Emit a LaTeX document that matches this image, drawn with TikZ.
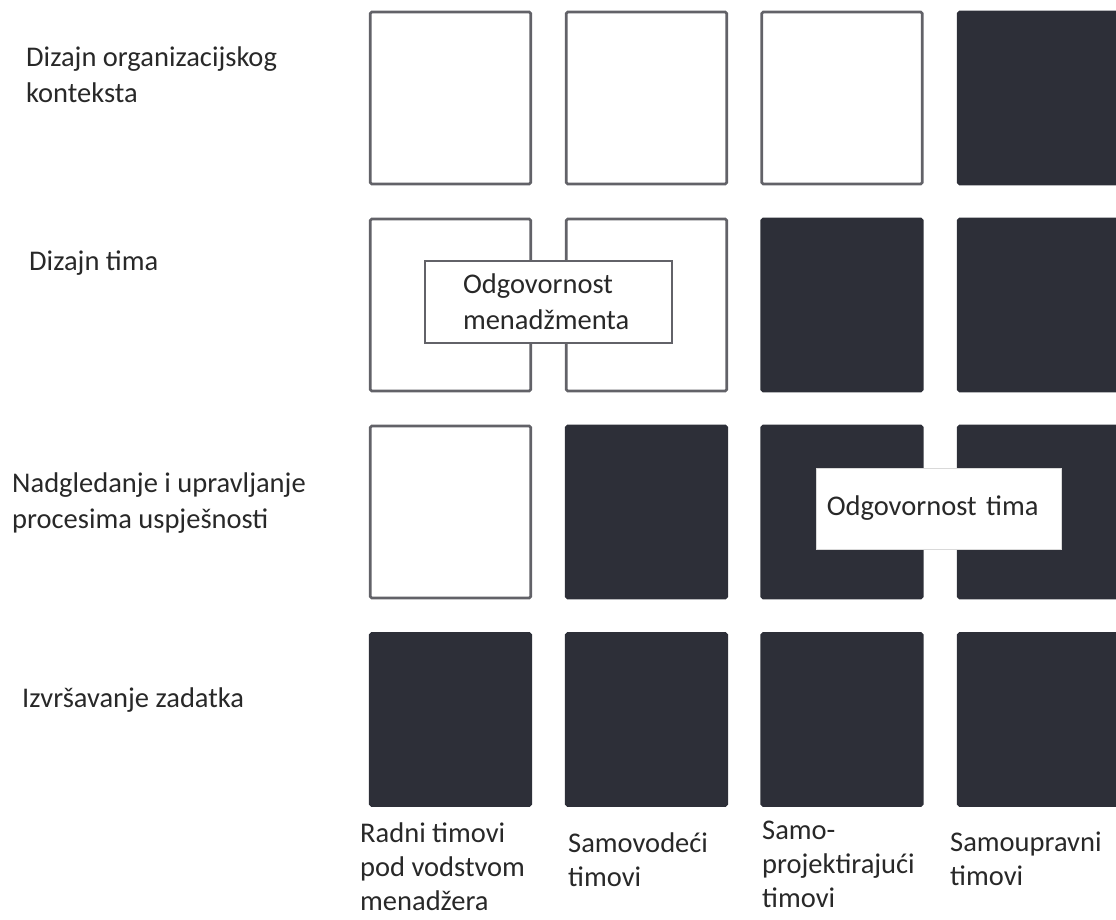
\documentclass[tikz,border=0pt]{standalone}
\usepackage{fontspec}
\setmainfont{Carlito}
\usetikzlibrary{positioning,calc}

\definecolor{cellfill}{RGB}{45,47,56}
\definecolor{cellline}{RGB}{98,98,104}
\definecolor{txt}{RGB}{40,40,40}

\tikzset{
  cell/.style={minimum width=160.5pt, minimum height=172pt, inner sep=0pt,
    line width=2.6pt, rounded corners=1.5pt},
  open/.style={cell, draw=cellline, fill=white},
  dark/.style={cell, draw=cellfill, fill=cellfill},
  lbl/.style={anchor=base west, align=left, inner sep=0pt, text=txt,
    font=\fontsize{28.5}{36}\selectfont},
  teamlbl/.style={lbl, font=\fontsize{28.5}{34}\selectfont},
  respbox/.style={fill=white, align=left, text=txt, inner ysep=0pt,
    font=\fontsize{28.5}{36}\selectfont}
}

\begin{document}
\begin{tikzpicture}[x=1pt,y=-1pt]
\useasboundingbox (0,0) rectangle (1116,920);
% grid of cells, dark when the team carries the job
\foreach \r/\y in {1/98,2/305,3/512,4/719.5}
  \foreach \c/\x in {1/450.5,2/646.5,3/842,4/1038.5}{
    \pgfmathtruncatemacro{\cellsum}{\r+\c}
    \ifnum\cellsum>4 \def\cellstyle{dark}\else\def\cellstyle{open}\fi
    \node[\cellstyle] (r\r c\c) at (\x,\y) {};
  }

% responsibility boxes
\node[respbox, draw=cellline, line width=2.2pt, minimum width=247pt, minimum height=82pt,
  inner xsep=38pt, text width=171pt] (mgmt) at ($(r2c1)!0.5!(r2c2)+(0,-3)$)
  {Odgovornost\\menadžmenta};
\node[respbox, draw=white!85!black, line width=0.6pt, minimum width=245pt, minimum height=81pt,
  inner xsep=10pt, text width=225pt] (team) at ($(r3c3)!0.5!(r3c4)+(-1,-3.5)$)
  {Odgovornost tima};

% row labels (anchored at the last baseline)
\node[lbl] (ctx) at (26,103) {Dizajn organizacijskog\\konteksta};
\node[lbl] (design) at (29,270) {Dizajn tima};
\node[lbl] (monitor) at (12,528) {Nadgledanje i upravljanje\\procesima uspješnosti};
\node[lbl] (exec) at (22,707) {Izvršavanje zadatka};

% column labels
\node[teamlbl] (mgr) at (360,910) {Radni timovi\\pod vodstvom\\menadžera};
\node[teamlbl] (selfman) at (568,886) {Samovodeći\\timovi};
\node[teamlbl] (selfdes) at (762,907) {Samo-\\projektirajući\\timovi};
\node[teamlbl] (selfgov) at (950,885) {Samoupravni\\timovi};
\end{tikzpicture}
\end{document}
